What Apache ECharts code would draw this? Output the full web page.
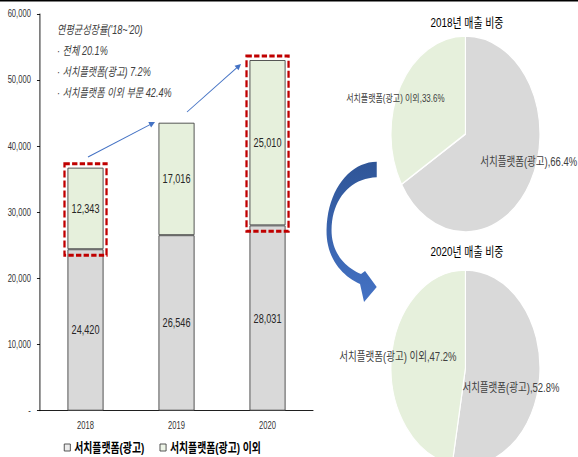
<!DOCTYPE html>
<html><head><meta charset="utf-8">
<script src="https://cdn.jsdelivr.net/npm/echarts@6/dist/echarts.min.js"></script>
<style>
html,body{margin:0;padding:0;overflow:hidden;background:#fff;width:578px;height:457px;}
#chart{width:760px;height:457px;transform:scaleX(0.76053);transform-origin:0 0;}
</style></head><body><div id="chart"></div>
<script>
// ---- data ----
const years = ['2018', '2019', '2020'];
const searchAd = [24420, 26546, 28031];
const otherBiz = [12343, 17016, 25010];
const seriesNames = ['서치플랫폼(광고)', '서치플랫폼(광고) 이외'];
const yTicks = [0, 10000, 20000, 30000, 40000, 50000, 60000];
const highlightYears = [0, 2];
const pieYears = [0, 2];
const pieTitles = ['2018년 매출 비중', '2020년 매출 비중'];
const cagrNotes = ["연평균성장률('18~'20)", '· 전체 20.1%', '· 서치플랫폼(광고) 7.2%', '· 서치플랫폼 이외 부문 42.4%'];

// ---- style ----
const SX = 578 / 760, K = 1 / SX;
const FONT = "'Liberation Sans', 'Noto Sans CJK KR', sans-serif";
const GRAY = '#d9d9d9', GREEN = '#e6f0dc', EDGE = '#404040';
const fmt = v => v.toLocaleString('en-US');

const chart = echarts.init(document.getElementById('chart'), null, {renderer: 'svg'});

function pieSeries(i, cy, offs, sizes) {
  const idx = pieYears[i];
  return {
    type: 'pie', radius: 98, center: [612, cy], startAngle: 90, clockwise: true,
    percentPrecision: 1, silent: true, z: 2,
    itemStyle: {borderColor: '#fff', borderWidth: 1.5},
    label: {show: true, position: 'inside', formatter: '{b},{d}%', color: '#404040', fontFamily: FONT},
    labelLine: {show: false},
    labelLayout: p => ({dx: offs[p.dataIndex][0], dy: offs[p.dataIndex][1]}),
    data: [
      {name: seriesNames[0], value: searchAd[idx], itemStyle: {color: GRAY}, label: {fontSize: sizes[0]}},
      {name: seriesNames[1], value: otherBiz[idx], itemStyle: {color: GREEN}, label: {fontSize: sizes[1]}}
    ]
  };
}

// thin arrows (reference-space coordinates, group scaled back)
function arrow(x1, y1, x2, y2) {
  const dx = x2 - x1, dy = y2 - y1, L = Math.hypot(dx, dy);
  const ux = dx / L, uy = dy / L, nx = -uy, ny = ux;
  const h = 6, w = 3;
  return [
    {type: 'line', shape: {x1, y1, x2: x2 - ux * 4, y2: y2 - uy * 4}, style: {stroke: '#4472c4', lineWidth: 1}},
    {type: 'polygon', shape: {points: [[x2, y2], [x2 - ux * h + nx * w, y2 - uy * h + ny * w], [x2 - ux * h - nx * w, y2 - uy * h - ny * w]]}, style: {fill: '#4472c4'}}
  ];
}
// sample a cubic bezier
function bez(p0, p1, p2, p3, n) {
  const pts = [];
  for (let k = 1; k <= n; k++) {
    const t = k / n, u = 1 - t;
    pts.push([
      u*u*u*p0[0] + 3*u*u*t*p1[0] + 3*u*t*t*p2[0] + t*t*t*p3[0],
      u*u*u*p0[1] + 3*u*u*t*p1[1] + 3*u*t*t*p2[1] + t*t*t*p3[1]
    ]);
  }
  return pts;
}
const curvePts = [[376.7, 161.7]]
  .concat(bez([376.7, 161.7], [350, 162], [327, 190], [326.5, 230], 20))
  .concat(bez([326.5, 230], [326, 258], [342, 276], [360, 284], 20))
  .concat([[364, 302], [376.7, 287], [365, 271], [361, 274]])
  .concat(bez([361, 274], [344, 267], [331.5, 252], [331.5, 230], 20))
  .concat(bez([331.5, 230], [331.5, 200], [350, 178], [376.7, 177.3], 20));

const option = {
  backgroundColor: '#fff',
  animation: false,
  textStyle: {fontFamily: FONT},
  title: pieTitles.map((t, i) => ({
    text: t, left: 614, top: i === 0 ? 16 : 245, textAlign: 'center', padding: 0,
    textStyle: {fontSize: 13, fontWeight: 'normal', color: '#000', fontFamily: FONT}
  })),
  legend: {
    data: [
      {name: seriesNames[0], itemStyle: {color: '#ececec', borderColor: '#404040', borderWidth: 1}},
      {name: seriesNames[1], itemStyle: {color: '#eef5e8', borderColor: '#404040', borderWidth: 1}}
    ],
    left: 84, top: 441, padding: 0, itemGap: 20, itemWidth: 8, itemHeight: 7, icon: 'rect',
    selectedMode: false,
    textStyle: {fontSize: 13, fontWeight: 'bold', color: '#000', fontFamily: FONT}
  },
  grid: {left: 52.6, right: 348.4, top: 14, bottom: 46.3, outerBoundsMode: 'none', containLabel: false},
  xAxis: {
    type: 'category', data: years,
    axisLine: {lineStyle: {color: '#000', width: 1}},
    axisTick: {show: false},
    axisLabel: {fontSize: 10, color: '#333', margin: 10, fontFamily: FONT}
  },
  yAxis: {
    type: 'value', min: yTicks[0], max: yTicks[yTicks.length - 1], interval: yTicks[1] - yTicks[0],
    axisLine: {show: true, lineStyle: {color: '#000', width: 1}},
    axisTick: {show: true, length: 4, lineStyle: {color: '#000'}},
    splitLine: {show: false},
    axisLabel: {fontSize: 10, color: '#333', margin: 12, fontFamily: FONT, formatter: v => v === 0 ? '-' : fmt(v)}
  },
  series: [
    {
      name: seriesNames[0], type: 'bar', stack: 'total', barWidth: '39.5%', data: searchAd,
      itemStyle: {color: GRAY, borderColor: EDGE, borderWidth: 1},
      label: {show: true, position: 'inside', formatter: p => fmt(p.value), fontSize: 12, color: '#262626', fontFamily: FONT}
    },
    {
      name: seriesNames[1], type: 'bar', stack: 'total', barWidth: '39.5%', data: otherBiz,
      itemStyle: {color: GREEN, borderColor: EDGE, borderWidth: 1},
      label: {show: true, position: 'inside', formatter: p => fmt(p.value), fontSize: 12, color: '#262626', fontFamily: FONT}
    },
    {
      type: 'custom', silent: true, z: 5,
      data: highlightYears.map(i => [i, searchAd[i], searchAd[i] + otherBiz[i]]),
      encode: {x: 0, y: [1, 2]},
      renderItem: function (params, api) {
        const i = api.value(0);
        const lo = api.coord([i, api.value(1)]);
        const hi = api.coord([i, api.value(2)]);
        const bw = api.size([1, 0])[0] * 0.395;
        return {
          type: 'rect',
          shape: {x: lo[0] - bw / 2 - 4, y: hi[1] - 4, width: bw + 8, height: lo[1] - hi[1] + 10},
          style: {fill: 'none', stroke: '#c00000', lineWidth: 3, lineDash: [7, 3]}
        };
      }
    },
    pieSeries(0, 134, [[38, 2], [-47, -10]], [12.5, 10.5]),
    pieSeries(1, 368, [[8, 15], [-37, -7]], [12.5, 12.5])
  ],
  graphic: [
    {type: 'rect', shape: {x: 0, y: 0, width: 760, height: 1.5}, style: {fill: '#000'}, silent: true},
    ...cagrNotes.map((t, i) => ({
      type: 'text', x: 75, y: 29 + i * 21, silent: true,
      style: {text: t, fontSize: 12, fontStyle: 'italic', fontFamily: FONT, fill: '#404040', verticalAlign: 'middle', align: 'left'}
    })),
    {
      type: 'group', x: 0, y: 0, scaleX: K, silent: true,
      children: [
        ...arrow(88, 157, 155, 122),
        ...arrow(187, 112, 241, 64),
        {
          type: 'polygon',
          shape: {points: curvePts},
          style: {fill: new echarts.graphic.LinearGradient(0, 0, 0, 1, [{offset: 0, color: '#2f5597'}, {offset: 1, color: '#4472c4'}])}
        }
      ]
    }
  ]
};
chart.setOption(option);
</script></body></html>
